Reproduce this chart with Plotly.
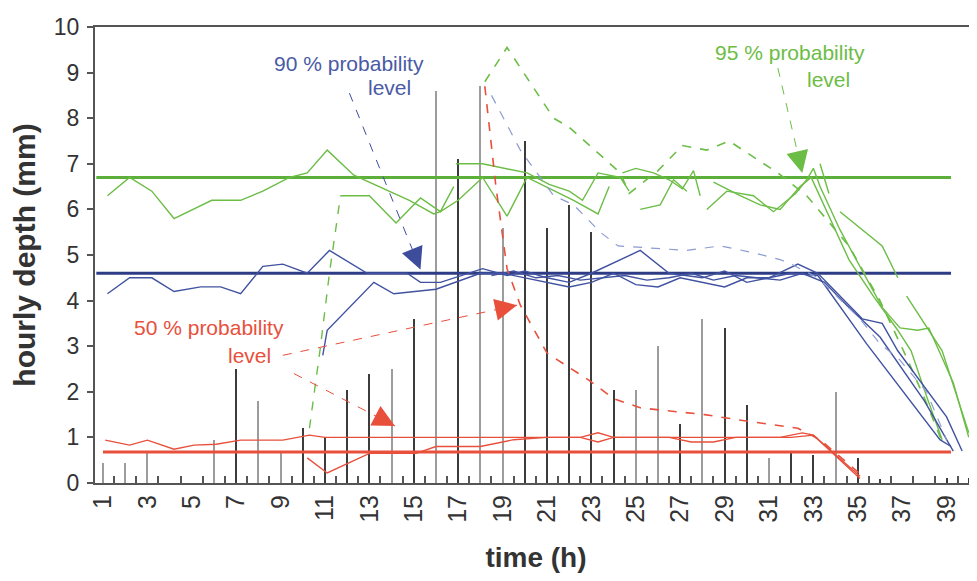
import math
import plotly.graph_objects as go

# ---------------- data ----------------
hours = list(range(1, 41))
hourly_depth = [0.43, 0.43, 0.65, 0, 0, 0.95, 2.5, 1.8, 0.65, 1.2,
                1.0, 2.05, 2.4, 2.5, 3.6, 8.6, 7.1, 8.7, 5.6, 7.5,
                5.6, 6.1, 5.5, 2.05, 2.05, 3.0, 1.3, 3.6, 3.4, 1.7,
                0.55, 0.65, 0.62, 2.0, 0.55, 0.08, 0, 0, 0.1, 0.1]
bar_tone = ['g', 'g', 'g', 'g', 'g', 'g', 'd', 'g', 'g', 'd',
            'd', 'd', 'd', 'g', 'd', 'g', 'd', 'g', 'g', 'd',
            'd', 'd', 'd', 'd', 'g', 'g', 'd', 'g', 'd', 'd',
            'g', 'd', 'd', 'g', 'd', 'd', 'd', 'd', 'd', 'd']

level_95 = 6.7
level_90 = 4.6
level_50 = 0.68
level_span = [0.7, 39.2]
level_span_50 = [1.0, 39.2]

# green (95 %) series
g1_x = [1.2, 2.2, 3.2, 4.2, 5.9, 7.2, 8.2, 9.4, 10.2, 11.1, 12.3, 14.8, 15.9, 16.2, 17.0, 18.1, 19.2, 20.1, 22.2, 23.3, 23.8]
g1_y = [6.3, 6.7, 6.4, 5.8, 6.2, 6.2, 6.4, 6.7, 6.8, 7.3, 6.75, 6.2, 5.9, 5.95, 6.2, 6.7, 5.85, 6.7, 6.2, 5.9, 6.5]
g2_rise_x = [10.3, 10.8, 11.2, 11.7]
g2_rise_y = [1.2, 3.0, 4.6, 6.3]
g2_x = [11.7, 13.0, 14.2, 15.3, 16.2, 16.8]
g2_y = [6.3, 6.3, 5.7, 6.25, 5.95, 6.5]
g3_x = [16.9, 18.1, 20.1, 21.1, 22.0, 22.6, 23.3, 24.3, 24.7]
g3_y = [7.0, 7.0, 6.8, 6.55, 6.4, 6.2, 6.8, 6.7, 6.4]
g4_x = [24.4, 25.0, 25.8, 26.5, 27.1, 27.6, 27.9]
g4_y = [6.8, 6.9, 6.8, 6.65, 6.45, 6.85, 6.3]
g5_x = [25.2, 26.1, 26.7, 27.3]
g5_y = [6.0, 6.1, 6.65, 6.4]
g6_x = [28.2, 29.1, 30.3, 31.2, 32.2, 32.7, 33.0, 33.3, 34.2, 35.1, 36.1, 36.9, 37.7, 38.2, 39.3, 40.0]
g6_y = [6.0, 6.4, 6.3, 5.95, 6.35, 6.65, 6.9, 6.5, 5.55, 4.75, 3.85, 3.4, 3.35, 3.4, 2.2, 1.0]
g7_x = [28.5, 29.7, 30.6, 31.5, 32.4, 32.9, 34.6, 35.7, 36.8, 37.4, 38.1, 38.8]
g7_y = [6.6, 6.3, 6.1, 6.0, 6.5, 6.7, 4.9, 4.1, 3.35, 2.9, 1.9, 0.95]
g8_x = [33.3, 33.7]
g8_y = [7.0, 6.35]
g9_x = [34.2, 36.1, 36.8]
g9_y = [5.95, 5.2, 4.5]
g10_x = [37.2, 38.8, 40.0]
g10_y = [4.1, 2.9, 1.1]
g_dash_x = [18.2, 19.2, 21.3, 22.0, 23.5, 24.3, 24.7, 26.0, 27.1, 28.2, 29.2, 30.3, 31.4, 32.7, 34.6, 36.0, 37.2, 38.1, 38.8]
g_dash_y = [8.8, 9.55, 8.0, 7.8, 7.15, 6.8, 6.35, 6.85, 7.4, 7.3, 7.5, 7.15, 6.8, 6.3, 5.2, 4.0, 2.75, 1.75, 0.9]

# blue (90 %) series
b1_x = [1.2, 2.2, 3.2, 4.2, 5.4, 6.3, 7.2, 8.2, 9.1, 10.2, 11.2, 12.9, 14.7, 15.3, 16.2, 18.1, 19.2, 20.0, 21.0, 22.0, 23.0,
        25.2, 26.5, 28.0, 29.0, 30.0, 31.0, 32.3, 33.2, 35.2, 36.1, 36.8, 39.0, 39.7]
b1_y = [4.15, 4.5, 4.5, 4.2, 4.3, 4.3, 4.15, 4.75, 4.8, 4.6, 5.1, 4.6, 4.6, 4.4, 4.4, 4.7, 4.55, 4.65, 4.5, 4.4, 4.6,
        5.1, 4.6, 4.5, 4.65, 4.4, 4.5, 4.8, 4.6, 3.6, 3.5, 2.9, 1.45, 0.7]
b2_x = [10.9, 11.1, 13.2, 14.1, 16.0, 18.0, 19.0, 20.0, 21.0, 22.0, 23.0, 24.0, 25.0, 26.0, 27.0, 28.0, 29.0, 30.0,
        31.0, 32.0, 33.2, 35.4, 38.7, 39.2]
b2_y = [2.8, 3.35, 4.4, 4.15, 4.25, 4.6, 4.6, 4.5, 4.4, 4.3, 4.4, 4.6, 4.35, 4.3, 4.5, 4.4, 4.3, 4.5,
        4.5, 4.6, 4.55, 3.05, 0.95, 0.8]
b3_x = [18.5, 19.5, 20.5, 21.5, 22.5, 23.5, 24.5, 25.5, 26.5, 27.5, 28.5, 29.5, 30.5, 31.5, 32.5, 33.5, 34.5, 36.0, 38.0, 39.3]
b3_y = [4.55, 4.65, 4.5, 4.55, 4.45, 4.5, 4.55, 4.45, 4.5, 4.6, 4.45, 4.55, 4.5, 4.45, 4.6, 4.4, 3.9, 3.2, 1.8, 0.7]
b_dash_x = [18.5, 19.8, 21.3, 22.2, 23.4, 24.2, 27.3, 28.8, 30.3, 31.5, 32.0, 33.2, 35.1, 36.0, 36.8, 38.1, 39.0]
b_dash_y = [8.5, 7.3, 6.3, 6.1, 5.5, 5.2, 5.1, 5.2, 5.05, 4.9, 4.8, 4.5, 3.6, 3.05, 2.75, 2.0, 0.95]

# red (50 %) series
r1_x = [1.1, 2.2, 3.0, 4.2, 5.1, 6.1, 7.2, 9.1, 10.3, 11.0, 20.0, 22.5, 23.3, 24.0, 32.0, 33.0, 35.1]
r1_y = [0.94, 0.83, 0.94, 0.74, 0.83, 0.85, 0.94, 0.94, 1.05, 1.0, 1.0, 1.0, 1.1, 1.0, 1.0, 1.05, 0.15]
r2_x = [10.2, 11.1, 13.0, 15.1, 16.0, 18.0, 19.5, 21.0, 22.5, 23.3, 24.0, 26.5, 27.5, 28.5, 29.5, 31.5, 32.5, 33.0, 35.1]
r2_y = [0.55, 0.22, 0.65, 0.65, 0.8, 0.8, 0.95, 1.0, 1.0, 0.9, 1.0, 1.0, 0.9, 0.9, 1.0, 1.0, 1.1, 1.05, 0.1]
r_dash_x = [18.2, 18.7, 19.2, 19.8, 21.0, 22.9, 24.0, 25.2, 26.1, 28.1, 30.1, 32.3, 33.3, 35.1]
r_dash_y = [8.7, 6.5, 4.7, 3.9, 2.85, 2.25, 1.85, 1.65, 1.6, 1.5, 1.35, 1.2, 0.95, 0.2]

x_tick_vals = list(range(1, 40, 2))
y_tick_vals = list(range(0, 11))

# label / arrow anchors (data units)
label_90 = (12.1, 9.2, 13.9, 8.68)
label_95 = (31.95, 9.45, 33.66, 8.84)
label_50 = (5.77, 3.42, 7.58, 2.8)
arrows = [  # (x_start, y_start, x_tip, y_tip, color)
    (12.1, 8.55, 15.3, 4.68, '#3d4d9c'),
    (31.4, 9.1, 32.5, 6.8, '#6cbd45'),
    (9.1, 2.8, 19.65, 3.9, '#e8503c'),
    (9.6, 2.4, 14.15, 1.25, '#e8503c'),
]

# ---------------- styling ----------------
GREEN = '#6cbd45'
GREEN_LEVEL = '#5cb03a'
BLUE = '#4052a0'
BLUE_LEVEL = '#2e3c86'
BLUE_DASH = '#8c9bd2'
RED = '#e8503c'
FONT = 'Liberation Sans, Arial, sans-serif'
X_RANGE = [0.64, 40.37]
Y_RANGE = [0, 10]
PLOT_W, PLOT_H = 882, 456  # plot-area size in px (from margins below)

fig = go.Figure()

fig.add_trace(go.Bar(
    x=hours, y=hourly_depth, width=0.09,
    marker=dict(color=['#3c3c3c' if t == 'd' else '#9c9c9c' for t in bar_tone], line=dict(width=0)),
    hoverinfo='x+y'))

def add_line(x, y, color, width=1.4, dash='solid'):
    fig.add_trace(go.Scatter(x=x, y=y, mode='lines',
                             line=dict(color=color, width=width, dash=dash)))

# level lines
add_line(level_span, [level_95, level_95], GREEN_LEVEL, 3)
add_line(level_span, [level_90, level_90], BLUE_LEVEL, 3)
add_line(level_span_50, [level_50, level_50], RED, 3)

for gx, gy in [(g1_x, g1_y), (g2_x, g2_y), (g3_x, g3_y), (g4_x, g4_y), (g5_x, g5_y),
               (g6_x, g6_y), (g7_x, g7_y), (g8_x, g8_y), (g9_x, g9_y), (g10_x, g10_y)]:
    add_line(gx, gy, GREEN, 1.4)
add_line(g2_rise_x, g2_rise_y, GREEN, 1.4, 'dash')
add_line(g_dash_x, g_dash_y, GREEN, 1.6, 'dash')

for bx, by in [(b1_x, b1_y), (b2_x, b2_y), (b3_x, b3_y)]:
    add_line(bx, by, BLUE, 1.4)
add_line(b_dash_x, b_dash_y, BLUE_DASH, 1.2, 'dash')

add_line(r1_x, r1_y, RED, 1.4)
add_line(r2_x, r2_y, RED, 1.4)
add_line(r_dash_x, r_dash_y, RED, 1.6, 'dash')

annotations = []
for (tx, ty, lx, ly), color, txt in [(label_90, '#4a5aa5', '90 % probability'),
                                      (label_95, GREEN, '95 % probability'),
                                      (label_50, RED, '50 % probability')]:
    annotations.append(dict(x=tx, y=ty, text=txt, showarrow=False,
                            font=dict(family=FONT, size=21, color=color)))
    annotations.append(dict(x=lx, y=ly, text='level', showarrow=False,
                            font=dict(family=FONT, size=21, color=color)))

sx = PLOT_W / (X_RANGE[1] - X_RANGE[0])
sy = PLOT_H / (Y_RANGE[1] - Y_RANGE[0])
shapes = []
for x0, y0, x1, y1, color in arrows:
    shapes.append(dict(type='line', xref='x', yref='y', x0=x0, y0=y0, x1=x1, y1=y1,
                       line=dict(color=color, width=1, dash='dash')))
    dxp, dyp = (x1 - x0) * sx, -(y1 - y0) * sy
    L = math.hypot(dxp, dyp)
    annotations.append(dict(x=x1, y=y1, ax=-dxp / L * 18, ay=-dyp / L * 18,
                            xref='x', yref='y', text='',
                            showarrow=True, arrowhead=2, arrowsize=2.2, arrowwidth=2,
                            arrowcolor=color))

fig.update_layout(
    width=977, height=581,
    margin=dict(l=87, r=8, t=19, b=106),
    paper_bgcolor='white', plot_bgcolor='white',
    showlegend=False,
    font=dict(family=FONT, color='#333333'),
    annotations=annotations,
    shapes=shapes,
    xaxis=dict(range=X_RANGE, tickmode='array', tickvals=x_tick_vals,
               ticktext=[str(v) for v in x_tick_vals], tickangle=-90,
               tickfont=dict(size=25, color='#333333'), ticks='', showgrid=False,
               showline=True, linecolor='#555555', linewidth=2, mirror=True,
               zeroline=False,
               minor=dict(tickvals=[h + 0.5 for h in range(0, 41)], ticks='inside',
                          ticklen=7, tickcolor='#555555', tickwidth=1.5),
               title=dict(text='<b>time (h)</b>', font=dict(size=28, color='#333333'), standoff=26),
               automargin=False),
    yaxis=dict(range=Y_RANGE, tickvals=y_tick_vals, ticks='outside', ticklen=6,
               tickcolor='#555555', tickwidth=1.5, ticklabelstandoff=3,
               tickfont=dict(size=23, color='#333333'), showgrid=False,
               showline=True, linecolor='#555555', linewidth=2, zeroline=False,
               title=dict(text='<b>hourly depth (mm)</b>', font=dict(size=30, color='#333333'), standoff=10),
               automargin=False),
    bargap=0,
)

fig.write_html('out.html')
